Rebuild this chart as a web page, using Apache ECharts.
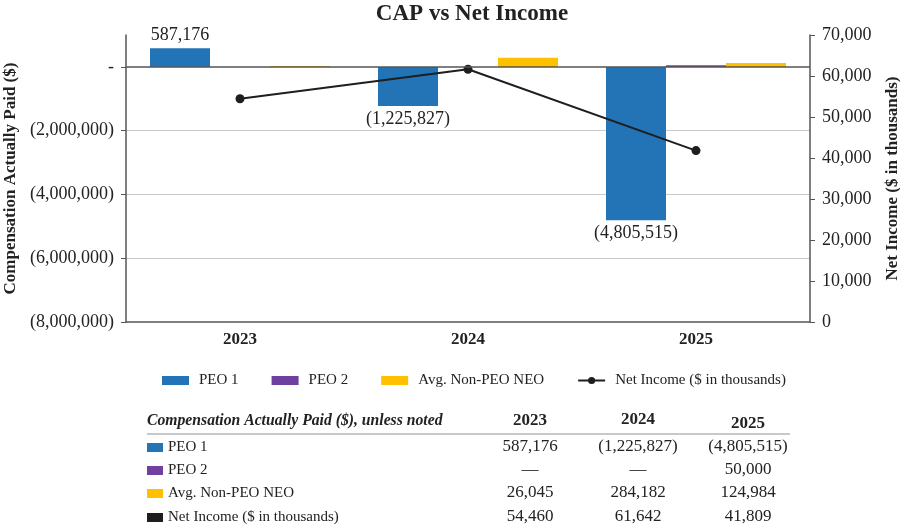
<!DOCTYPE html>
<html>
<head>
<meta charset="utf-8">
<script src="https://cdn.jsdelivr.net/npm/echarts@6/dist/echarts.min.js"></script>
<style>
  html, body { margin: 0; padding: 0; background: #fff; }
  #chart { width: 900px; height: 528px; }
</style>
</head>
<body>
<div id="chart"></div>
<script>
var years = ['2023', '2024', '2025'];
var peo1 = [587176, -1225827, -4805515];
var peo2 = [null, null, 50000];
var avgNeo = [26045, 284182, 124984];
var netIncome = [54460, 61642, 41809];
var seriesNames = ['PEO 1', 'PEO 2', 'Avg. Non-PEO NEO', 'Net Income ($ in thousands)'];
var colors = ['#2374B6', '#7040A0', '#FFC000', '#1e1e1e'];
var leftTicks = [-8000000, -6000000, -4000000, -2000000, 0];

var FONT = 'Liberation Serif';

function withCommas(v) {
    return Math.abs(v).toString().replace(/\B(?=(\d{3})+(?!\d))/g, ',');
}
function money(v) {
    if (v === null || v === undefined) return '\u2014';
    return v < 0 ? '(' + withCommas(v) + ')' : withCommas(v);
}

// table below the chart, built from the same arrays
var colX = [530, 638, 748];
var headY = [421, 420, 424];
var rowY = [447, 470, 493, 517];
var rows = [peo1, peo2, avgNeo, netIncome];
var graphic = [];
graphic.push({
    type: 'text', x: 147, y: 421,
    style: { text: 'Compensation Actually Paid ($), unless noted', font: 'italic bold 15.7px ' + FONT, fill: '#222', verticalAlign: 'middle' }
});
for (var c = 0; c < years.length; c++) {
    graphic.push({
        type: 'text', x: colX[c], y: headY[c],
        style: { text: years[c], font: 'bold 17px ' + FONT, fill: '#222', align: 'center', verticalAlign: 'middle' }
    });
}
graphic.push({
    type: 'line', shape: { x1: 147, y1: 434, x2: 790, y2: 434 },
    style: { stroke: '#c8c8c8', lineWidth: 2 }
});
for (var r = 0; r < rows.length; r++) {
    graphic.push({
        type: 'rect', shape: { x: 147, y: rowY[r] - 4, width: 16, height: 9 },
        style: { fill: colors[r] }
    });
    graphic.push({
        type: 'text', x: 168, y: rowY[r],
        style: { text: seriesNames[r], font: '15px ' + FONT, fill: '#222', verticalAlign: 'middle' }
    });
    for (var c2 = 0; c2 < years.length; c2++) {
        graphic.push({
            type: 'text', x: colX[c2], y: rowY[r],
            style: { text: money(rows[r][c2]), font: '17px ' + FONT, fill: '#222', align: 'center', verticalAlign: 'middle' }
        });
    }
}

var chart = echarts.init(document.getElementById('chart'));
chart.setOption({
    animation: false,
    color: colors,
    textStyle: { fontFamily: FONT, color: '#222' },
    title: {
        text: 'CAP vs Net Income',
        left: 467, top: -2, textAlign: 'center',
        textStyle: { fontFamily: FONT, fontSize: 23, fontWeight: 'bold', color: '#222' }
    },
    legend: {
        top: 373, left: 162, padding: 0,
        itemWidth: 27, itemHeight: 9, itemGap: 33,
        textStyle: { fontFamily: FONT, fontSize: 15, color: '#222', padding: [0, 0, 0, 5] },
        data: [
            { name: seriesNames[0], icon: 'rect' },
            { name: seriesNames[1], icon: 'rect' },
            { name: seriesNames[2], icon: 'rect' },
            { name: seriesNames[3] }
        ]
    },
    grid: { left: 126, right: 90, top: 35, bottom: 206, containLabel: false, outerBoundsMode: 'none' },
    xAxis: {
        type: 'category',
        data: years,
        axisLine: { onZero: false, lineStyle: { color: '#555', width: 1.5 } },
        axisTick: { show: false },
        axisLabel: { fontFamily: FONT, fontSize: 17, fontWeight: 'bold', color: '#222', margin: 9 }
    },
    yAxis: [
        {
            type: 'value',
            min: -8000000, max: 1000000, interval: 2000000,
            name: 'Compensation Actually Paid ($)',
            nameLocation: 'middle', nameGap: 104,
            nameTextStyle: { fontFamily: FONT, fontSize: 17, fontWeight: 'bold', color: '#222' },
            axisLine: { show: true, lineStyle: { color: '#555', width: 1.5 } },
            axisTick: { show: true, length: 5, customValues: leftTicks, lineStyle: { color: '#555' } },
            axisLabel: {
                fontFamily: FONT, fontSize: 18, color: '#222', margin: 12,
                customValues: leftTicks,
                formatter: function (v) { return v === 0 ? '-' : money(v); }
            },
            splitLine: { show: true, showMaxLine: false, showMinLine: false, lineStyle: { color: '#c8c8c8', width: 1 } }
        },
        {
            type: 'value',
            min: 0, max: 70000, interval: 10000,
            position: 'right',
            name: 'Net Income ($ in thousands)',
            nameLocation: 'middle', nameGap: 74,
            nameTextStyle: { fontFamily: FONT, fontSize: 17, fontWeight: 'bold', color: '#222' },
            axisLine: { show: true, lineStyle: { color: '#555', width: 1.5 } },
            axisTick: { show: true, length: 5, lineStyle: { color: '#555' } },
            axisLabel: { fontFamily: FONT, fontSize: 18, color: '#222', margin: 12, formatter: function (v) { return withCommas(v); } },
            splitLine: { show: false }
        }
    ],
    series: [
        {
            name: seriesNames[0], type: 'bar', barWidth: 60, barGap: '0%',
            data: peo1.map(function (v) {
                return { value: v, label: { position: v < 0 ? 'bottom' : 'top' } };
            }),
            label: {
                show: true, distance: 4, fontFamily: FONT, fontSize: 18, color: '#222',
                formatter: function (p) { return money(p.value); }
            },
            markLine: {
                silent: true, symbol: 'none', label: { show: false },
                lineStyle: { color: '#555', width: 1.5, type: 'solid' },
                data: [{ yAxis: 0 }]
            }
        },
        { name: seriesNames[1], type: 'bar', barWidth: 60, barGap: '0%', data: peo2 },
        { name: seriesNames[2], type: 'bar', barWidth: 60, barGap: '0%', data: avgNeo },
        {
            name: seriesNames[3], type: 'line', yAxisIndex: 1, data: netIncome,
            symbol: 'circle', symbolSize: 9,
            lineStyle: { color: colors[3], width: 2 },
            itemStyle: { color: colors[3] }
        }
    ],
    graphic: graphic
});
</script>
</body>
</html>
